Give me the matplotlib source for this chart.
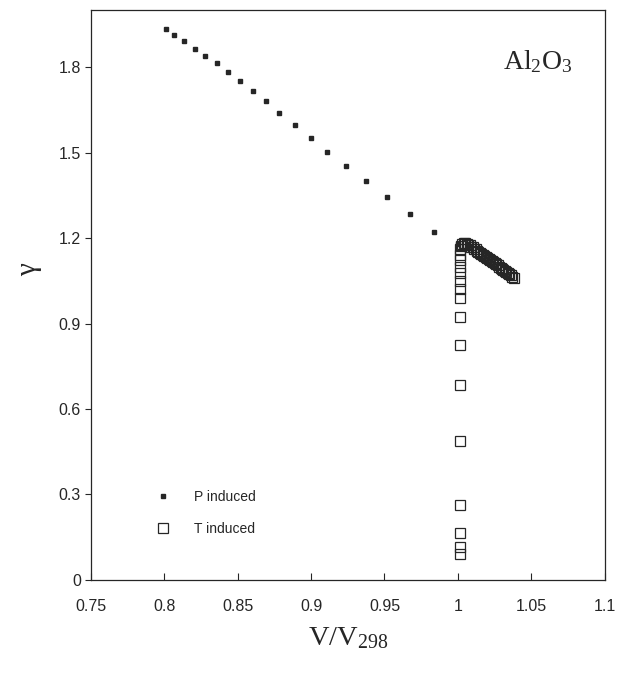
import matplotlib
matplotlib.use("Agg")
import matplotlib.pyplot as plt

plt.rcParams["font.family"] = ["Liberation Sans", "DejaVu Sans"]
plt.rcParams["mathtext.fontset"] = "custom"
plt.rcParams["mathtext.rm"] = "Liberation Serif"
plt.rcParams["mathtext.it"] = "Liberation Serif:italic"

# pressure induced (filled dots)
p_v = [0.801, 0.8067, 0.8135, 0.8207, 0.8278, 0.8357, 0.8434, 0.8516, 0.8604,
       0.8693, 0.8784, 0.8893, 0.9001, 0.9110, 0.9237, 0.9371, 0.9520, 0.9672,
       0.9840, 1.000]
p_g = [1.932, 1.912, 1.891, 1.863, 1.840, 1.813, 1.783, 1.751, 1.717,
       1.681, 1.640, 1.596, 1.552, 1.503, 1.454, 1.399, 1.344, 1.283,
       1.220, 1.180]

# temperature induced (open squares)
t_v = [1.0015, 1.0015, 1.0015, 1.0015, 1.0015, 1.0015, 1.0015, 1.0015,
       1.0015, 1.0015, 1.0015, 1.0015, 1.0015, 1.0015, 1.0015, 1.0015,
       1.002, 1.003, 1.004, 1.005, 1.006, 1.007, 1.008, 1.009, 1.010, 1.011,
       1.012, 1.013, 1.014, 1.015, 1.016, 1.017, 1.018, 1.019, 1.020, 1.021,
       1.022, 1.023, 1.024, 1.025, 1.026, 1.027, 1.028, 1.029, 1.030, 1.031,
       1.032, 1.033, 1.034, 1.035, 1.036, 1.037, 1.038]
t_g = [0.090, 0.115, 0.165, 0.262, 0.489, 0.684, 0.825, 0.922,
       0.990, 1.020, 1.050, 1.078, 1.100, 1.122, 1.142, 1.160,
       1.172, 1.178, 1.182, 1.182, 1.180, 1.177, 1.174, 1.170, 1.167, 1.163,
       1.160, 1.156, 1.152, 1.149, 1.145, 1.141, 1.138, 1.134, 1.130, 1.127,
       1.123, 1.119, 1.115, 1.112, 1.108, 1.104, 1.100, 1.096, 1.092, 1.088,
       1.085, 1.081, 1.077, 1.073, 1.069, 1.065, 1.061]

x_ticks = [0.75, 0.8, 0.85, 0.9, 0.95, 1.0, 1.05, 1.1]
x_labels = ["0.75", "0.8", "0.85", "0.9", "0.95", "1", "1.05", "1.1"]
y_ticks = [0, 0.3, 0.6, 0.9, 1.2, 1.5, 1.8]
y_labels = ["0", "0.3", "0.6", "0.9", "1.2", "1.5", "1.8"]

ink = "#262626"

fig = plt.figure(figsize=(6.34, 6.74), dpi=100)
ax = fig.add_axes([0.143, 0.1395, 0.811, 0.8455])

ax.plot(p_v, p_g, ls="none", marker="s", ms=3.0, mfc=ink, mec=ink,
        label="P induced")
ax.plot(t_v, t_g, ls="none", marker="s", ms=7.8, mfc="none", mec=ink,
        mew=0.9, label="T induced")

ax.set_xlim(0.75, 1.1)
ax.set_ylim(0, 2.0)
ax.set_xticks(x_ticks)
ax.set_xticklabels(x_labels)
ax.set_yticks(y_ticks)
ax.set_yticklabels(y_labels)

ax.tick_params(axis="x", direction="in", length=5, width=0.8, pad=14,
               labelsize=11.5, colors=ink)
ax.tick_params(axis="y", direction="out", length=4, width=0.8, pad=3,
               labelsize=11.5, colors=ink)
for s in ax.spines.values():
    s.set_linewidth(0.9)
    s.set_color(ink)

ax.set_xlabel(r"$\mathrm{V/V_{298}}$", fontsize=20.5, color=ink, labelpad=8)
ax.set_ylabel("γ", family="Liberation Serif", fontsize=21, color=ink,
              rotation=90)
ax.yaxis.set_label_coords(-0.095, 0.545)

ax.text(0.87, 0.91, r"$\mathrm{Al_2O_3}$", transform=ax.transAxes,
        fontsize=20, color=ink, ha="center", va="center")

leg = ax.legend(loc="lower left", bbox_to_anchor=(0.09, 0.055), frameon=False,
                fontsize=10, labelspacing=1.3, handletextpad=1.2,
                markerscale=1.0, numpoints=1)
for t in leg.get_texts():
    t.set_color(ink)

fig.savefig("out.png", dpi=100)
